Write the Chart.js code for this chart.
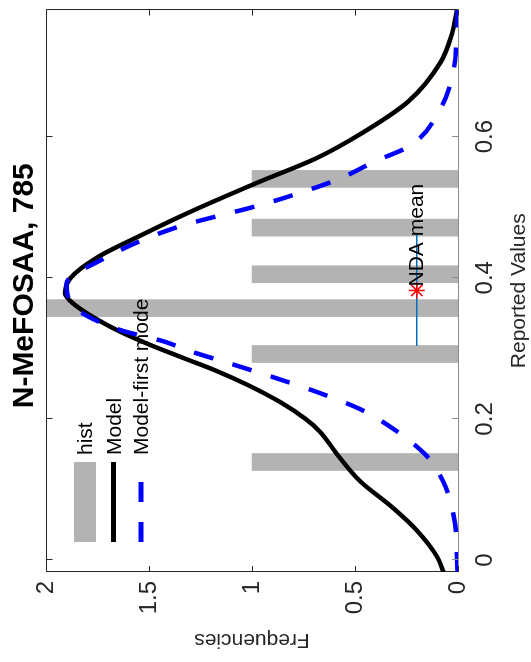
<!DOCTYPE html>
<html><head><meta charset="utf-8">
<script src="https://cdn.jsdelivr.net/npm/chart.js@4.4.1/dist/chart.umd.min.js"></script>
<style>
html,body{margin:0;padding:0;background:#fff;overflow:hidden;width:531px;height:662px;}
#wrap{position:absolute;left:0;top:0;width:662px;height:531px;transform-origin:0 0;transform:translate(0,662px) rotate(-90deg);background:#fff;}
canvas{display:block;}
</style></head><body>
<div id="wrap"><canvas id="c" width="662" height="531"></canvas></div>
<script>
// ---- data ----
const chartTitle = 'N-MeFOSAA, 785';
const xAxisTitle = 'Reported Values';
const yAxisTitle = 'Frequencies';
const seriesNames = ['hist', 'Model', 'Model-first mode'];

const histValues = [0.139, 0.292, 0.357, 0.405, 0.471, 0.540];
const histCounts = [1, 1, 2, 1, 1, 1];

const modelX = [-0.0168, 0.004, 0.042, 0.074, 0.112, 0.15, 0.182, 0.20, 0.224, 0.248, 0.269, 0.286, 0.308, 0.331, 0.364, 0.378, 0.40, 0.429, 0.46, 0.492, 0.534, 0.569, 0.606, 0.65, 0.705, 0.745, 0.78];
const modelY = [0.07, 0.10, 0.20, 0.316, 0.476, 0.587, 0.67, 0.74, 0.864, 1.02, 1.18, 1.33, 1.52, 1.69, 1.87, 1.908, 1.88, 1.75, 1.54, 1.31, 0.98, 0.69, 0.46, 0.24, 0.085, 0.03, 0.005];

const firstModeX = [-0.0168, 0.052, 0.112, 0.15, 0.192, 0.214, 0.235, 0.256, 0.277, 0.296, 0.31, 0.326, 0.361, 0.392, 0.424, 0.471, 0.503, 0.52, 0.541, 0.564, 0.587, 0.639, 0.69, 0.755, 0.78];
const firstModeY = [0.003, 0.015, 0.073, 0.16, 0.345, 0.476, 0.655, 0.864, 1.09, 1.30, 1.43, 1.64, 1.87, 1.90, 1.74, 1.37, 0.96, 0.77, 0.57, 0.41, 0.233, 0.087, 0.024, 0.005, 0.002];

const ndaText = 'NDA mean';
const ndaMean = 0.382;
const ndaLow = 0.3035;
const ndaHigh = 0.4615;
const ndaLevel = 0.2;

const xMin = -0.0168, xMax = 0.78;
const yMin = 0, yMax = 2;
const xTicks = [0, 0.2, 0.4, 0.6];
const xTickLabels = ['0', '0.2', '0.4', '0.6'];
const yTicks = [0, 0.5, 1, 1.5, 2];
const yTickLabels = ['0', '0.5', '1', '1.5', '2'];

// ---- drawing ----
const FONT = "'Liberation Sans', Arial, Helvetica, sans-serif";
Chart.defaults.font.family = FONT;
const AXIS = '#262626';

const pts = (xs, ys) => xs.map((v, i) => ({x: v, y: ys[i]}));

const decor = {
  id: 'decor',
  afterDatasetsDraw(chart) {
    const {ctx, chartArea: a, scales: {x, y}} = chart;
    ctx.save();
    ctx.font = '21px ' + FONT;
    ctx.fillStyle = '#000';
    ctx.textAlign = 'left';
    ctx.textBaseline = 'middle';
    ctx.fillText(ndaText, x.getPixelForValue(ndaMean) + 4, y.getPixelForValue(ndaLevel));
    ctx.lineWidth = 1;
    ctx.strokeStyle = AXIS;
    const T = Math.round(a.top) + 0.5, R = Math.round(a.right) - 0.5;
    const Lx = Math.round(a.left) + 0.5, B = Math.round(a.bottom) - 0.5;
    ctx.beginPath();
    ctx.moveTo(Lx, T); ctx.lineTo(R, T); ctx.lineTo(R, B);
    ctx.stroke();
    const TL = 6;
    xTicks.forEach(v => {
      const p = Math.round(x.getPixelForValue(v)) + 0.5;
      ctx.strokeStyle = AXIS;
      ctx.beginPath(); ctx.moveTo(p, T); ctx.lineTo(p, T + TL); ctx.stroke();
      ctx.strokeStyle = '#8c8c8c';
      ctx.beginPath(); ctx.moveTo(p, a.bottom); ctx.lineTo(p, a.bottom - TL); ctx.stroke();
    });
    ctx.strokeStyle = AXIS;
    yTicks.forEach(v => {
      const p = Math.round(y.getPixelForValue(v)) + 0.5;
      ctx.beginPath(); ctx.moveTo(a.left, p); ctx.lineTo(a.left + TL, p); ctx.stroke();
      ctx.beginPath(); ctx.moveTo(a.right, p); ctx.lineTo(a.right - TL, p); ctx.stroke();
    });
    ctx.restore();
  },
  afterDraw(chart) {
    const {ctx, chartArea: a} = chart;
    ctx.save();
    ctx.font = 'bold 30px ' + FONT;
    ctx.fillStyle = '#000';
    ctx.textAlign = 'center';
    ctx.textBaseline = 'middle';
    ctx.fillText(chartTitle, (a.left + a.right) / 2 + 5, 25);
    const x0 = a.left + 30, x1 = a.left + 110, tx = a.left + 117;
    const rows = [a.top + 39, a.top + 67.5, a.top + 95];
    ctx.fillStyle = '#b3b3b3';
    ctx.fillRect(x0, rows[0] - 11, x1 - x0, 22);
    ctx.lineWidth = 5;
    ctx.strokeStyle = '#000';
    ctx.beginPath(); ctx.moveTo(x0, rows[1]); ctx.lineTo(x1, rows[1]); ctx.stroke();
    ctx.strokeStyle = '#0000ff';
    ctx.setLineDash([20, 20]);
    ctx.beginPath(); ctx.moveTo(x0, rows[2]); ctx.lineTo(x1, rows[2]); ctx.stroke();
    ctx.setLineDash([]);
    ctx.font = '21px ' + FONT;
    ctx.fillStyle = '#000';
    ctx.textAlign = 'left';
    ctx.textBaseline = 'middle';
    seriesNames.forEach((n, i) => ctx.fillText(n, tx, rows[i] + 1.5));
    ctx.restore();
  }
};

new Chart(document.getElementById('c'), {
  type: 'line',
  data: {
    datasets: [
      {type: 'scatter', label: 'NDA mean point', data: [{x: ndaMean, y: ndaLevel}],
       pointStyle: 'star', pointRadius: 8, pointBorderWidth: 1.5, borderColor: '#ff0000', backgroundColor: '#ff0000', order: 0},
      {type: 'line', label: 'NDA range', data: [{x: ndaLow, y: ndaLevel}, {x: ndaHigh, y: ndaLevel}],
       borderColor: '#0072BD', borderWidth: 1.5, pointRadius: 0, order: 1},
      {type: 'line', label: seriesNames[2], data: pts(firstModeX, firstModeY),
       borderColor: '#0000ff', borderWidth: 4.5, borderDash: [20, 20], pointRadius: 0,
       cubicInterpolationMode: 'monotone', fill: false, order: 2},
      {type: 'line', label: seriesNames[1], data: pts(modelX, modelY),
       borderColor: '#000000', borderWidth: 4.5, pointRadius: 0,
       cubicInterpolationMode: 'monotone', fill: false, order: 3},
      {type: 'bar', label: seriesNames[0], data: pts(histValues, histCounts),
       backgroundColor: '#b3b3b3', borderWidth: 0, barThickness: 17, order: 4}
    ]
  },
  options: {
    responsive: false,
    animation: false,
    devicePixelRatio: 1,
    layout: {padding: {top: 46, right: 3, left: 0, bottom: 0}},
    plugins: {legend: {display: false}, tooltip: {enabled: false}, title: {display: false}},
    scales: {
      x: {
        type: 'linear', min: xMin, max: xMax, offset: false,
        afterBuildTicks: s => { s.ticks = xTicks.map(v => ({value: v})); },
        afterFit: s => { s.height = 73; },
        ticks: {callback: (v, i) => xTickLabels[i], font: {size: 24}, color: AXIS, padding: 13, maxRotation: 0, autoSkip: false},
        grid: {display: false, drawTicks: false},
        border: {display: true, color: '#8c8c8c', width: 1},
        title: {display: true, text: xAxisTitle, font: {size: 21}, color: AXIS, padding: {top: 0, bottom: -1}}
      },
      y: {
        type: 'linear', min: yMin, max: yMax,
        afterBuildTicks: s => { s.ticks = yTicks.map(v => ({value: v})); },
        afterFit: s => { s.width = 90; },
        ticks: {callback: (v, i) => yTickLabels[i], font: {size: 24}, color: AXIS, padding: 9, autoSkip: false},
        grid: {display: false, drawTicks: false},
        border: {display: true, color: AXIS, width: 1},
        title: {display: true, text: yAxisTitle, font: {size: 21}, color: AXIS, padding: {top: 10, bottom: 0}}
      }
    }
  },
  plugins: [decor]
});
</script></body></html>
